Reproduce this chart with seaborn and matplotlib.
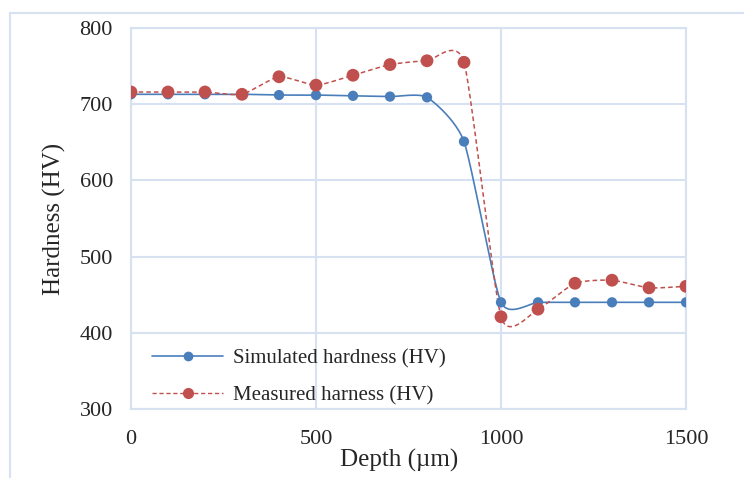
import numpy as np
import pandas as pd
import matplotlib
matplotlib.use("Agg")
import matplotlib.pyplot as plt
from matplotlib.lines import Line2D
from matplotlib.patches import Rectangle
import seaborn as sns

# Data
depth = [0, 100, 200, 300, 400, 500, 600, 700, 800, 900, 1000, 1100, 1200, 1300, 1400, 1500]
simulated = [713, 713, 713, 713, 712, 712, 711, 710, 709, 651, 440, 440, 440, 440, 440, 440]
measured = [716, 716, 716, 713, 736, 725, 738, 752, 757, 755, 421, 431, 465, 469, 459, 461]

BLUE = "#4A7EBB"
RED = "#C0504D"
GRID = "#D6E2F2"


def excel_smooth(xs, ys, k=1 / 10, n=40):
    """Bezier smoothing roughly like Excel's 'smoothed line' option."""
    pts = np.column_stack([xs, ys]).astype(float)
    pts = np.vstack([pts[0], pts, pts[-1]])
    out = []
    for i in range(1, len(pts) - 2):
        p0, p1, p2, p3 = pts[i - 1], pts[i], pts[i + 1], pts[i + 2]
        c1 = p1 + (p2 - p0) * k
        c2 = p2 - (p3 - p1) * k
        t = np.linspace(0, 1, n)[:, None]
        seg = ((1 - t) ** 3) * p1 + 3 * ((1 - t) ** 2) * t * c1 + 3 * (1 - t) * t ** 2 * c2 + t ** 3 * p2
        out.append(seg if i == 1 else seg[1:])
    out = np.vstack(out)
    return out[:, 0], out[:, 1]


sns.set_theme(style="white")
plt.rcParams["font.family"] = ["Liberation Serif", "DejaVu Serif"]

fig = plt.figure(figsize=(7.44, 4.78), dpi=100)
ax = fig.add_axes([131 / 744, 1 - 409 / 478, 555 / 744, 381 / 478])

# outer chart border
fig.patches.append(Rectangle((10 / 744, -0.01), 0.99, 1 - 13 / 478 + 0.01,
                             transform=fig.transFigure, fill=False,
                             edgecolor=GRID, linewidth=1.5))

sx, sy = excel_smooth(depth, simulated)
mx, my = excel_smooth(depth, measured)

sns.lineplot(x=sx, y=sy, sort=False, estimator=None, color=BLUE, linewidth=1.2, ax=ax)
sns.lineplot(x=mx, y=my, sort=False, estimator=None, color=RED, linewidth=1.1,
             linestyle=(0, (3, 2)), ax=ax)
sns.scatterplot(x=depth, y=simulated, color=BLUE, s=55, edgecolor="none", ax=ax, zorder=3)
sns.scatterplot(x=depth, y=measured, color=RED, s=85, edgecolor="none", ax=ax, zorder=3)

ax.set_xlim(0, 1500)
ax.set_ylim(300, 800)
ax.set_xticks([0, 500, 1000, 1500])
ax.set_yticks([300, 400, 500, 600, 700, 800])
ax.grid(True, color=GRID, linewidth=1.5)
for s in ax.spines.values():
    s.set_color(GRID)
    s.set_linewidth(1.5)
ax.tick_params(axis="y", labelsize=16, length=0, pad=13)
ax.tick_params(axis="x", labelsize=16, length=0, pad=15)
ax.set_xlabel("Depth (\u00b5m)", fontsize=18)
ax.xaxis.set_label_coords(0.483, -0.105)
ax.set_ylabel("Hardness (HV)", fontsize=18, labelpad=10)

handles = [
    Line2D([], [], color=BLUE, linewidth=1.2, marker="o", markersize=6),
    Line2D([], [], color=RED, linewidth=1.0, linestyle=(0, (3, 2)), marker="o", markersize=7),
]
ax.legend(handles, ["Simulated hardness (HV)", "Measured harness (HV)"],
          loc="lower left", bbox_to_anchor=(0.023, -0.013), borderaxespad=0,
          frameon=False, fontsize=15, handlelength=3.4, handletextpad=0.5,
          labelspacing=0.85)

fig.savefig("out.png", dpi=100)
